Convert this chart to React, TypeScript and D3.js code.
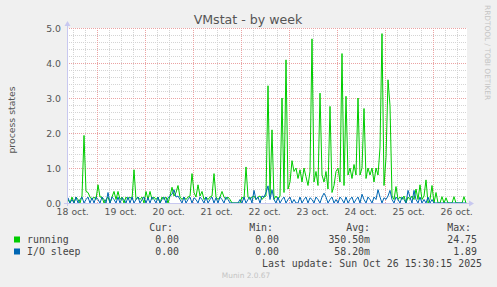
import React from 'react';
import * as d3 from 'd3';

const W = 497;
const H = 287;

const seriesNames = ['running', 'I/O sleep'];
const seriesColors = ['#00cc00', '#0066b3'];

// hourly samples, starting Oct 18 ~09:09
const running = [
  0.1, 0, 0.17, 0, 0.17, 0.1, 0, 0.2, 1.93, 0.33,
  0.3, 0.17, 0.1, 0.17, 0.1, 0.52, 0.17, 0.17, 0, 0.1,
  0.17, 0, 0.17, 0.33, 0.1, 0.33, 0.1, 0.17, 0, 0.17,
  0.1, 0.17, 0.1, 0.95, 0.1, 0.17, 0.1, 0.17, 0, 0.33,
  0.1, 0.33, 0.1, 0.17, 0.1, 0.17, 0, 0.17, 0.1, 0.17,
  0, 0.2, 0.45, 0.2, 0.3, 0.5, 0.17, 0.1, 0.17, 0.1,
  0.17, 0.2, 0.84, 0.3, 0.17, 0.52, 0.2, 0.33, 0.1, 0.17,
  0.1, 0.17, 0.2, 0.84, 0.17, 0.1, 0.17, 0.33, 0.17, 0.1,
  0.17, 0.1, 0, 0, 0, 0, 0, 0.17, 0.1, 1.03,
  0.17, 0.1, 0.17, 0.2, 0.1, 0.17, 0.2, 0.1, 0.17, 0.2,
  3.35, 0.2, 2.09, 0.1, 0.2, 0.1, 0.2, 3.0, 0.3, 4.09,
  0.4, 0.6, 1.21, 0.9, 1.0, 0.7, 0.95, 0.6, 1.0, 0.75,
  0.5, 0.9, 4.69, 0.6, 0.9, 0.5, 3.14, 0.8, 0.6, 0.9,
  0.4, 2.76, 0.3, 0.5, 0.9, 1.0, 0.6, 4.27, 0.5, 3.05,
  0.8, 1.0, 0.7, 1.1, 0.8, 3.0, 0.8, 1.0, 2.7, 0.7,
  1.0, 0.8, 1.0, 0.6, 1.0, 0.8, 1.58, 4.84, 0.5, 1.29,
  3.52, 2.78, 0.2, 0.1, 0.47, 0.1, 0.17, 0.1, 0.2, 0,
  0.17, 0.1, 0.2, 0.1, 0.4, 0.1, 0.52, 0.1, 0.2, 0.66,
  0, 0.1, 0.5, 0, 0.3, 0, 0, 0.18, 0, 0.15,
  0, 0, 0, 0.18, 0, 0, 0, 0, 0.18, 0,
];

const ioSleep = [
  0.15, 0, 0.1, 0, 0.17, 0, 0.1, 0.17, 0, 0.1,
  0.17, 0, 0.15, 0, 0.17, 0.1, 0, 0.17, 0.1, 0,
  0.3, 0, 0.17, 0.1, 0, 0.17, 0, 0.15, 0.1, 0,
  0.17, 0, 0.17, 0, 0.1, 0.17, 0, 0.1, 0.17, 0,
  0.15, 0, 0.17, 0.1, 0, 0.17, 0, 0.1, 0.17, 0,
  0.15, 0.2, 0.25, 0.38, 0.17, 0.2, 0.1, 0, 0.17, 0,
  0.1, 0.17, 0, 0.15, 0.1, 0, 0.17, 0.1, 0, 0.17,
  0, 0.1, 0.17, 0, 0.15, 0, 0.17, 0.1, 0, 0.17,
  0.1, 0, 0, 0, 0, 0, 0.1, 0, 0.17, 0,
  0.1, 0.17, 0, 0.36, 0.1, 0.17, 0, 0.2, 0.17, 0.3,
  0.49, 0.1, 0.38, 0.1, 0, 0.17, 0, 0.1, 0.17, 0,
  0.1, 0.17, 0, 0.1, 0, 0, 0.17, 0, 0.1, 0.17,
  0, 0.15, 0.1, 0, 0.17, 0.1, 0, 0.17, 0.28, 0.17,
  0, 0.1, 0.17, 0, 0.1, 0, 0.17, 0.1, 0, 0.17,
  0, 0.1, 0.17, 0, 0.1, 0.17, 0, 0.25, 0.1, 0,
  0.17, 0.1, 0, 0.17, 0.1, 0.38, 0.17, 0, 0.15, 0.1,
  0.2, 0.36, 0.1, 0, 0.17, 0.1, 0, 0.17, 0.1, 0,
  0.36, 0.17, 0, 0.36, 0.1, 0, 0.17, 0, 0.1, 0,
  0.17, 0, 0.1, 0, 0, 0, 0, 0, 0, 0,
  0, 0, 0, 0, 0, 0, 0, 0, 0, 0,
];

const yTicks = [0, 1, 2, 3, 4, 5];
const dayLabels = ['18 oct.', '19 oct.', '20 oct.', '21 oct.', '22 oct.', '23 oct.', '24 oct.', '25 oct.', '26 oct.'];
const legendHeaders = ['Cur:', 'Min:', 'Avg:', 'Max:'];
const legendCur = ['0.00', '0.00'];
const legendMin = ['0.00', '0.00'];
const legendAvg = ['350.50m', '58.20m'];
const legendMax = ['24.75', '1.89'];
const titleText = 'VMstat - by week';
const yLabel = 'process states';
const lastUpdate = 'Last update: Sun Oct 26 15:30:15 2025';
const footer = 'Munin 2.0.67';
const sideText = 'RRDTOOL / TOBI OETIKER';

const HOUR = 3600 * 1000;
const start = Date.UTC(2025, 9, 18, 9, 9);
const end = start + 200 * HOUR;
const times = d3.range(running.length).map((i) => new Date(start + (i + 0.5) * HOUR));

export default function App() {
  const left = 67;
  const right = 467;
  const top = 28;
  const bottom = 203;
  const x = d3.scaleUtc().domain([new Date(start), new Date(end)]).range([left, right]);
  const y = d3.scaleLinear().domain([0, 5]).range([bottom, top]);
  const px = (v: number) => Math.round(v) + 0.5;

  const minorX = d3.utcHour.every(6)!.range(new Date(start), new Date(end));
  const majorX = d3.utcDay.range(new Date(start), new Date(end));
  const minorY = d3.range(0, 5.0001, 0.2);
  const labelDays = d3.utcDay.range(new Date(Date.UTC(2025, 9, 18)), new Date(Date.UTC(2025, 9, 27)));

  const line = d3
    .line<number>()
    .x((_, i) => x(times[i]))
    .y((d) => y(d));

  const font = 'DejaVu Sans, sans-serif';
  const mono = 'DejaVu Sans Mono, monospace';
  const rows = [legendCur, legendMin, legendAvg, legendMax];
  const colEnds = [179, 279, 370, 477];
  const headerEnds = [173, 273, 370, 471];
  const legendColor = '#444';

  return (
    <svg width={W} height={H} style={{ position: 'absolute', left: 0, top: 0, display: 'block' }}>
      <rect x={0} y={0} width={W} height={H} fill="#f0f0f0" />
      <rect x={left} y={top} width={right - left} height={bottom - top} fill="#ffffff" />
      {/* minor grid */}
      {minorX.map((t, i) => (
        <line key={'mx' + i} x1={px(x(t))} x2={px(x(t))} y1={top} y2={bottom} stroke="#d4d4d4" strokeDasharray="1,1" strokeWidth={1} />
      ))}
      {minorY.map((v, i) => (
        <line key={'my' + i} x1={left} x2={right} y1={px(y(v))} y2={px(y(v))} stroke="#d4d4d4" strokeDasharray="1,1" strokeWidth={1} />
      ))}
      {/* major grid */}
      {majorX.map((t, i) => (
        <line key={'Mx' + i} x1={px(x(t))} x2={px(x(t))} y1={top} y2={bottom} stroke="#eba3a3" strokeDasharray="1,1" strokeWidth={1} />
      ))}
      {yTicks.map((v, i) => (
        <line key={'My' + i} x1={left} x2={right} y1={px(y(v))} y2={px(y(v))} stroke="#eba3a3" strokeDasharray="1,1" strokeWidth={1} />
      ))}
      {/* series */}
      <path d={line(running) || ''} fill="none" stroke={seriesColors[0]} strokeWidth={1} />
      <path d={line(ioSleep) || ''} fill="none" stroke={seriesColors[1]} strokeWidth={1} />
      {/* axes */}
      <line x1={left + 0.5} x2={left + 0.5} y1={bottom + 3} y2={top - 4} stroke="#c8c8f0" strokeWidth={1} />
      <path d={`M${left - 2.5},${top - 2} L${left + 3.5},${top - 2} L${left + 0.5},${top - 7} Z`} fill="#c8c8f0" />
      <line x1={left - 3} x2={right + 3} y1={bottom + 0.5} y2={bottom + 0.5} stroke="#c8c8f0" strokeWidth={1} />
      <path d={`M${right + 2},${bottom - 2.5} L${right + 2},${bottom + 3.5} L${right + 7},${bottom + 0.5} Z`} fill="#c8c8f0" />
      {/* y tick labels */}
      {yTicks.map((v, i) => (
        <text key={'yt' + i} x={61} y={y(v) + 3.5} textAnchor="end" fontFamily={font} fontSize={9.3} fill="#555">
          {v.toFixed(1)}
        </text>
      ))}
      {/* x labels */}
      {labelDays.map((d, i) => (
        <text key={'xl' + i} x={x(new Date(+d + 12 * HOUR))} y={214.5} textAnchor="middle" fontFamily={font} fontSize={9.3} fill="#555">
          {dayLabels[i]}
        </text>
      ))}
      {/* title */}
      <text x={248} y={24} textAnchor="middle" fontFamily={font} fontSize={12.6} fill="#555">
        {titleText}
      </text>
      <text transform="translate(14.5,120) rotate(-90)" textAnchor="middle" fontFamily={font} fontSize={9.3} fill="#555">
        {yLabel}
      </text>
      <text transform="translate(485,5) rotate(90)" textAnchor="start" fontFamily={font} fontSize={7.4} fill="#c4c4c4">
        {sideText}
      </text>
      {/* legend */}
      {legendHeaders.map((h, i) => (
        <text key={'lh' + i} x={headerEnds[i]} y={231} textAnchor="end" fontFamily={mono} fontSize={9.9} fill={legendColor}>
          {h}
        </text>
      ))}
      {seriesNames.map((n, si) => (
        <g key={'ls' + si}>
          <rect x={14} y={236.5 + si * 12} width={6} height={6} fill={seriesColors[si]} />
          <text x={27} y={243 + si * 12} fontFamily={mono} fontSize={9.9} fill={legendColor}>
            {n}
          </text>
          {rows.map((r, ci) => (
            <text key={ci} x={colEnds[ci]} y={243 + si * 12} textAnchor="end" fontFamily={mono} fontSize={9.9} fill={legendColor}>
              {r[si]}
            </text>
          ))}
        </g>
      ))}
      <text x={482} y={267} textAnchor="end" fontFamily={mono} fontSize={9.9} fill={legendColor}>
        {lastUpdate}
      </text>
      <text x={246} y={278} textAnchor="middle" fontFamily={font} fontSize={7.4} fill="#c4c4c4">
        {footer}
      </text>
    </svg>
  );
}
